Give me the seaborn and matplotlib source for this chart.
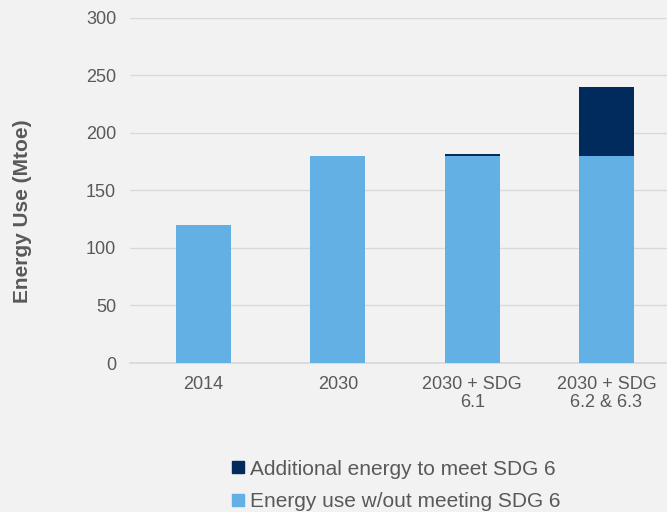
import pandas as pd
import seaborn as sns
import matplotlib.pyplot as plt
from matplotlib.lines import Line2D

# data
categories = ["2014", "2030", "2030 + SDG\n6.1", "2030 + SDG\n6.2 & 6.3"]
base_use = [120, 180, 180, 180]
additional = [0, 0, 1.5, 60]

label_add = "Additional energy to meet SDG 6"
label_base = "Energy use w/out meeting SDG 6"

light_blue = "#63B0E4"
dark_blue = "#002B5C"
bg = "#F2F2F2"
txt = "#595959"

sns.set_theme(style="white")
plt.rcParams['font.family'] = ['Liberation Sans', 'DejaVu Sans']

df = pd.DataFrame({"category": categories, "base": base_use, "extra": additional})

fig = plt.figure(figsize=(6.67, 5.12), dpi=100, facecolor=bg)
ax = fig.add_axes([0.195, 0.291, 0.805, 0.674])
ax.set_facecolor(bg)

sns.barplot(data=df, x="category", y="base", color=light_blue, width=0.41,
            saturation=1, ax=ax, zorder=3, linewidth=0)
sns.barplot(data=df, x="category", y="extra", color=dark_blue, width=0.41,
            saturation=1, ax=ax, bottom=df["base"], zorder=3, linewidth=0)

ax.set_ylim(0, 300)
ax.set_xlim(-0.547, 3.451)
ax.set_yticks(range(0, 301, 50))
ax.yaxis.grid(True, color="#D9D9D9", linewidth=1, zorder=0)
for s in ax.spines.values():
    s.set_visible(False)
ax.spines['bottom'].set_visible(True)
ax.spines['bottom'].set_color("#D9D9D9")
ax.tick_params(axis='both', colors=txt, labelsize=13, length=0)
ax.tick_params(axis='y', pad=10)
ax.tick_params(axis='x', pad=9)
for lbl in ax.get_xticklabels():
    lbl.set_linespacing(1.1)
ax.set_xlabel("")
ax.set_ylabel("Energy Use (Mtoe)", fontsize=15, fontweight="bold", color=txt)
ax.yaxis.set_label_coords(-0.182, 0.44)

handles = [Line2D([], [], marker='s', linestyle='', color=c, markersize=9)
           for c in (dark_blue, light_blue)]
fig.legend(handles, [label_add, label_base], loc='upper left',
           bbox_to_anchor=(0.345, 0.102), frameon=False, fontsize=15,
           labelcolor=txt, handlelength=0.75, handletextpad=0.2,
           labelspacing=0.65, borderpad=0, borderaxespad=0)

fig.savefig("out.png", dpi=100, facecolor=bg)
